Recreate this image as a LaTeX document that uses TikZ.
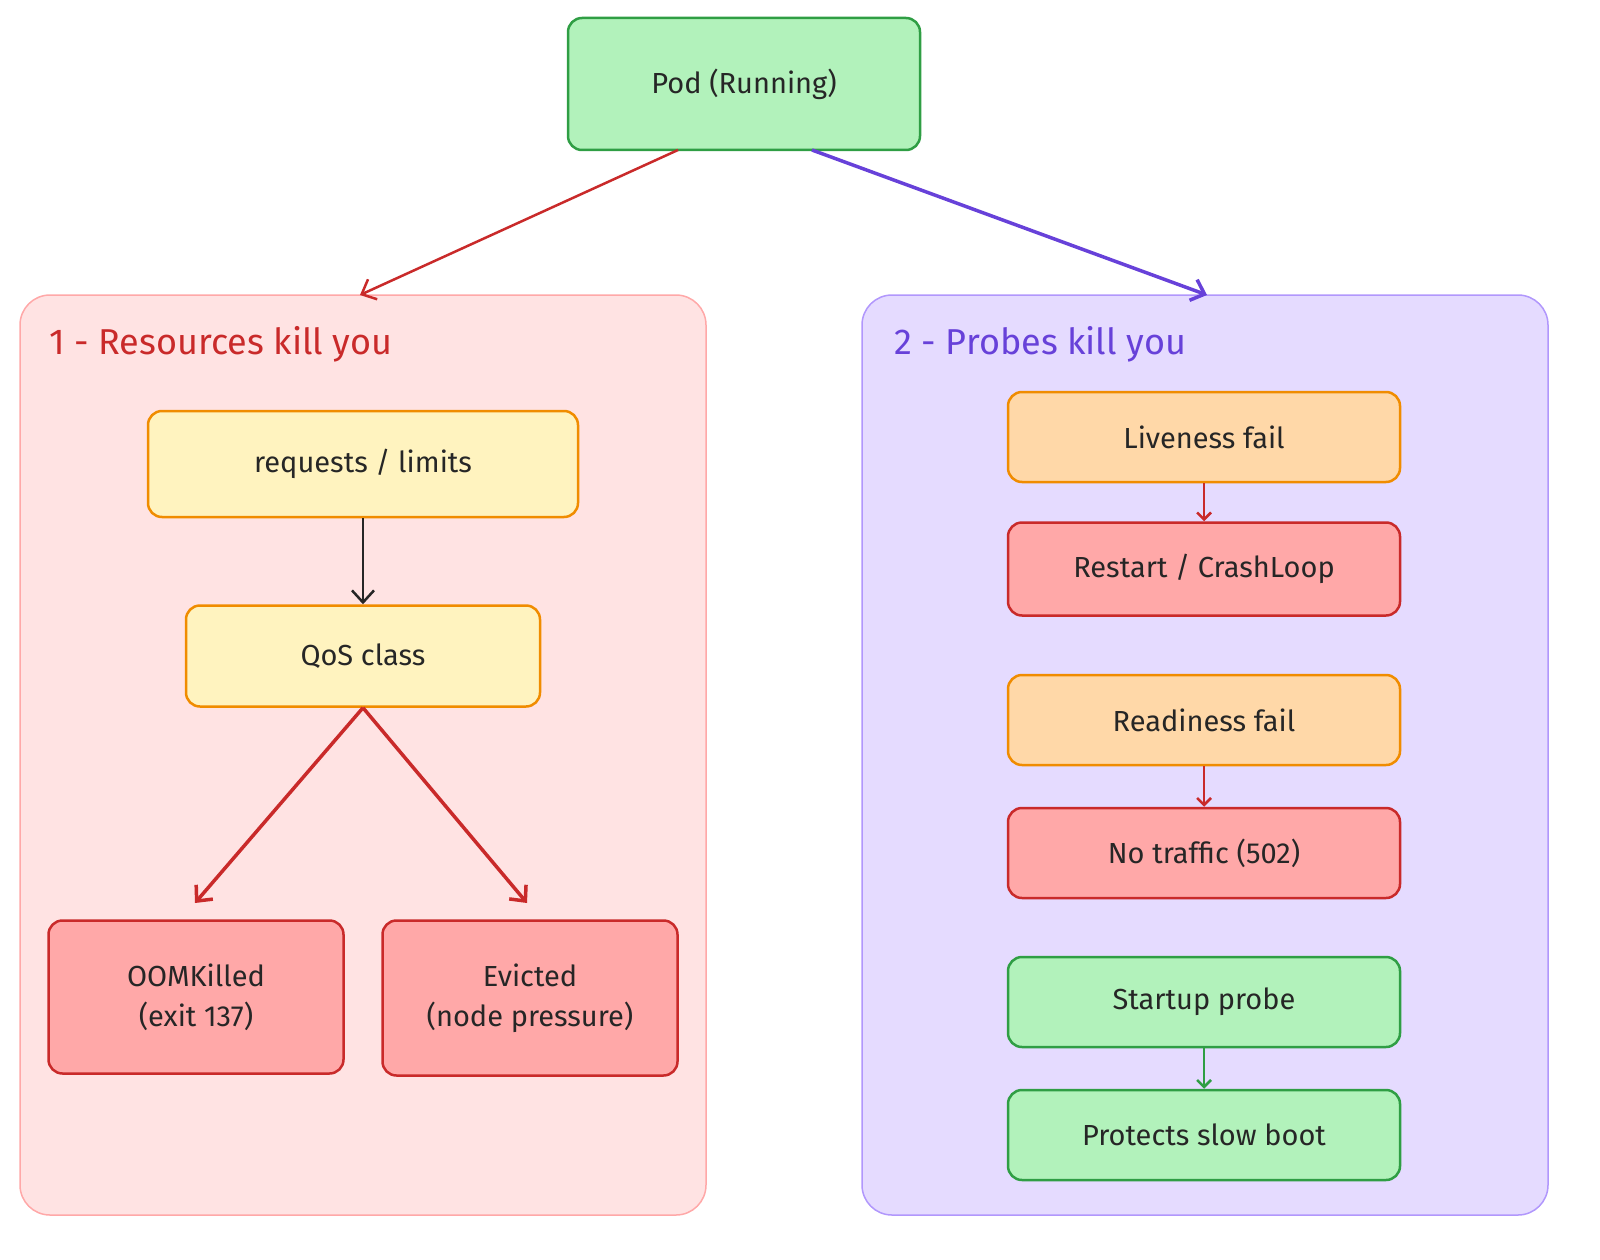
\documentclass[tikz,border=0pt]{standalone}
\usepackage{fontspec}
\setmainfont{Fira Sans}
\usetikzlibrary{arrows.meta}
\begin{document}
\begin{tikzpicture}[x=1pt,y=-1pt,
  box/.style={draw, line width=2.5pt, rounded corners=14pt, align=center, font=\fontsize{29}{40}\selectfont, text=black!85},
  grn/.style={box, fill={rgb,255:red,178;green,242;blue,187}, draw={rgb,255:red,47;green,158;blue,68}},
  yel/.style={box, fill={rgb,255:red,255;green,243;blue,191}, draw={rgb,255:red,240;green,140;blue,0}},
  org/.style={box, fill={rgb,255:red,255;green,216;blue,168}, draw={rgb,255:red,240;green,140;blue,0}},
  rd/.style={box, fill={rgb,255:red,255;green,168;blue,168}, draw={rgb,255:red,201;green,42;blue,42}},
  cont/.style={draw, line width=1.5pt, rounded corners=30pt},
  arr/.style={-{Straight Barb[length=12pt,width=22pt]}, line width=2.5pt},
  sarr/.style={-{Straight Barb[length=7pt,width=14pt]}, line width=2.5pt}
]
\useasboundingbox (0,0) rectangle (1600,1260);
\definecolor{rdc}{RGB}{201,42,42}
\definecolor{pur}{RGB}{103,65,217}
\definecolor{grc}{RGB}{47,158,68}
% containers
\node[cont, fill={rgb,255:red,255;green,227;blue,227}, draw={rgb,255:red,255;green,168;blue,168}, minimum width=686pt, minimum height=920pt] (L) at (363,755) {};
\node[cont, fill={rgb,255:red,229;green,219;blue,255}, draw={rgb,255:red,177;green,151;blue,252}, minimum width=686pt, minimum height=920pt] (R) at (1205,755) {};
\node[anchor=west, text=rdc, font=\fontsize{36}{40}\selectfont] (t1) at (46,344) {1 - Resources kill you};
\node[anchor=west, text=pur, font=\fontsize{36}{40}\selectfont] (t2) at (891,344) {2 - Probes kill you};
% nodes
\node[grn, minimum width=352pt, minimum height=132pt] (pod) at (744,84) {Pod (Running)};
\node[yel, minimum width=430pt, minimum height=106pt] (req) at (363,464) {requests / limits};
\node[yel, minimum width=354pt, minimum height=101pt] (qos) at (363,656) {QoS class};
\node[rd, minimum width=295pt, minimum height=153pt] (oom) at (196,997) {OOMKilled\\(exit 137)};
\node[rd, minimum width=295pt, minimum height=155pt] (ev) at (530,998) {Evicted\\(node pressure)};
\node[org, minimum width=392pt, minimum height=90pt] (liv) at (1204,437) {Liveness fail};
\node[rd, minimum width=392pt, minimum height=93pt] (rst) at (1204,569) {Restart / CrashLoop};
\node[org, minimum width=392pt, minimum height=90pt] (rdy) at (1204,720) {Readiness fail};
\node[rd, minimum width=392pt, minimum height=90pt] (nt) at (1204,853) {No traffic (502)};
\node[grn, minimum width=392pt, minimum height=90pt] (st) at (1204,1002) {Startup probe};
\node[grn, minimum width=392pt, minimum height=90pt] (pr) at (1204,1135) {Protects slow boot};
% arrow endpoints
\coordinate (p1) at (678,150);
\coordinate (p2) at (812,150);
\coordinate (l1) at (360,295);
\coordinate (r1) at (1207,295);
\coordinate (q1) at (195,903);
\coordinate (q2) at (527,903);
\draw[arr, rdc] (p1) -- (l1);
\draw[arr, pur, line width=3.5pt] (p2) -- (r1);
\draw[arr, black!85] (req.south) -- (qos.north);
\draw[arr, rdc, line width=3.5pt] (qos.south) -- (q1);
\draw[arr, rdc, line width=3.5pt] (qos.south) -- (q2);
\draw[sarr, rdc] (liv) -- (rst);
\draw[sarr, rdc] (rdy) -- (nt);
\draw[sarr, grc] (st) -- (pr);
\end{tikzpicture}
\end{document}
